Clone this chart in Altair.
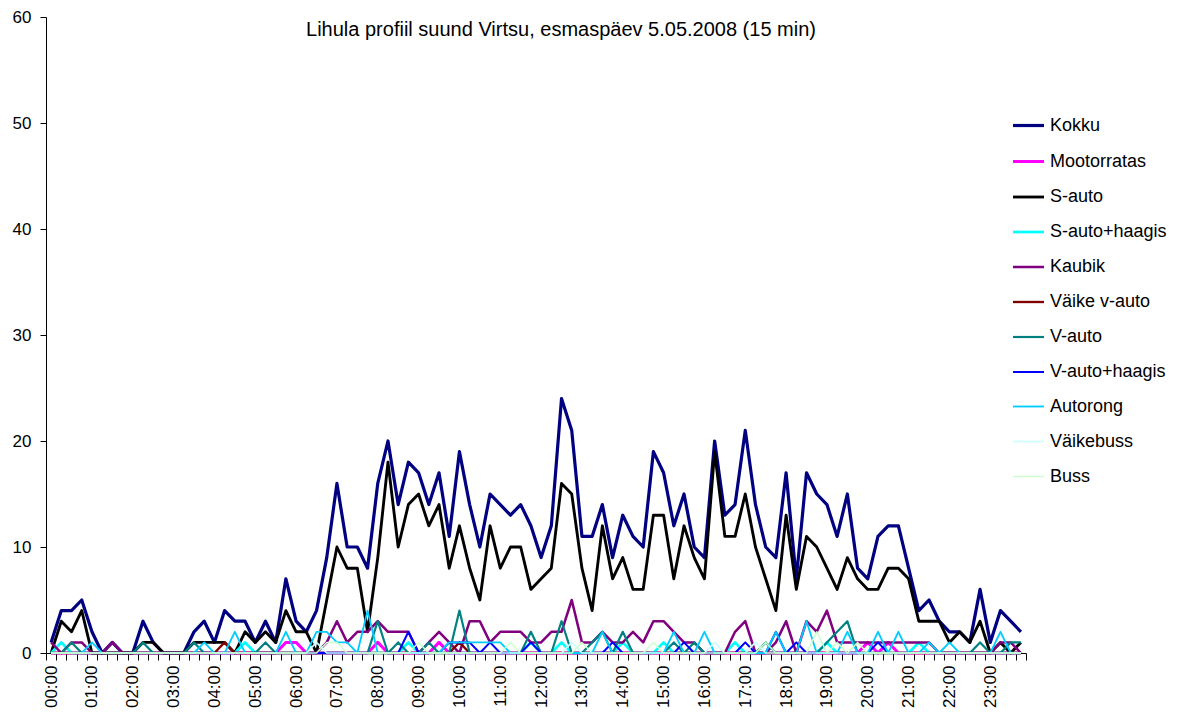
import altair as alt
import pandas as pd

title_text = "Lihula profiil suund Virtsu, esmaspäev 5.05.2008 (15 min)"

times = [f"{h:02d}:{m:02d}" for h in range(24) for m in (0, 15, 30, 45)]

series = ["Kokku", "Mootorratas", "S-auto", "S-auto+haagis", "Kaubik", "Väike v-auto",
          "V-auto", "V-auto+haagis", "Autorong", "Väikebuss", "Buss"]
colors = ["#000080", "#FF00FF", "#000000", "#00FFFF", "#800080", "#800000",
          "#008080", "#0000FF", "#00CCFF", "#CCFFFF", "#CCFFCC"]
widths = [3.2, 1.5, 1, 1.5, 1.5, 1.5, 1.5, 1.5, 1.5, 1.5, 1.5]

kokku = [1, 4, 4, 5, 2, 0, 1, 0, 0, 3, 1, 0, 0, 0, 2, 3,
         1, 4, 3, 3, 1, 3, 1, 7, 3, 2, 4, 9, 16, 10, 10, 8,
         16, 20, 14, 18, 17, 14, 17, 11, 19, 14, 10, 15, 14, 13, 14, 12,
         9, 12, 24, 21, 11, 11, 14, 9, 13, 11, 10, 19, 17, 12, 15, 10,
         9, 20, 13, 14, 21, 14, 10, 9, 17, 7, 17, 15, 14, 11, 15, 8,
         7, 11, 12, 12, 8, 4, 5, 3, 2, 2, 1, 6, 1, 4, 3, 2]
mootorratas = [0, 0, 0, 0, 0, 0, 0, 0, 0, 0, 0, 0, 0, 0, 0, 0,
               0, 0, 0, 0, 0, 0, 0, 1, 1, 0, 0, 0, 0, 0, 0, 0,
               1, 0, 0, 0, 0, 0, 1, 0, 0, 0, 0, 0, 0, 0, 0, 0,
               0, 0, 0, 0, 0, 0, 0, 0, 0, 0, 0, 0, 0, 0, 0, 0,
               0, 0, 0, 0, 0, 0, 0, 0, 0, 0, 0, 0, 0, 0, 0, 0,
               1, 0, 1, 0, 0, 0, 0, 0, 0, 0, 0, 0, 0, 0, 0, 0]
s_auto = [0, 3, 2, 4, 0, 0, 0, 0, 0, 1, 1, 0, 0, 0, 1, 1,
          1, 1, 0, 2, 1, 2, 1, 4, 2, 2, 0, 5, 10, 8, 8, 2,
          9, 18, 10, 14, 15, 12, 14, 8, 12, 8, 5, 12, 8, 10, 10, 6,
          7, 8, 16, 15, 8, 4, 12, 7, 9, 6, 6, 13, 13, 7, 12, 9,
          7, 19, 11, 11, 15, 10, 7, 4, 13, 6, 11, 10, 8, 6, 9, 7,
          6, 6, 8, 8, 7, 3, 3, 3, 1, 2, 1, 3, 0, 1, 0, 1]
s_auto_haagis = [0, 1, 0, 0, 0, 0, 0, 0, 0, 0, 0, 0, 0, 0, 0, 0,
                 0, 0, 0, 1, 0, 0, 0, 0, 0, 0, 0, 0, 0, 0, 0, 0,
                 0, 0, 0, 1, 0, 0, 0, 0, 0, 0, 0, 0, 0, 0, 0, 1,
                 0, 0, 1, 0, 0, 0, 0, 0, 1, 0, 0, 0, 1, 0, 0, 0,
                 0, 0, 0, 1, 0, 0, 0, 0, 0, 0, 0, 0, 1, 0, 0, 0,
                 0, 0, 0, 0, 0, 1, 0, 0, 0, 0, 0, 0, 0, 0, 0, 0]
kaubik = [1, 0, 1, 1, 0, 0, 1, 0, 0, 0, 0, 0, 0, 0, 0, 0,
          0, 0, 0, 0, 0, 0, 0, 0, 0, 0, 0, 1, 3, 1, 2, 2,
          3, 2, 2, 2, 0, 1, 2, 1, 0, 3, 3, 1, 2, 2, 2, 1,
          1, 2, 2, 5, 1, 1, 2, 1, 1, 2, 1, 3, 3, 2, 1, 1,
          0, 0, 0, 2, 3, 0, 0, 1, 3, 0, 3, 2, 4, 1, 1, 1,
          1, 1, 1, 1, 1, 1, 1, 0, 0, 0, 0, 0, 0, 1, 1, 0]
vaike_v_auto = [0, 0, 0, 0, 0, 0, 0, 0, 0, 0, 0, 0, 0, 0, 0, 0,
                0, 1, 0, 0, 0, 0, 0, 0, 0, 0, 0, 0, 0, 0, 0, 0,
                0, 0, 0, 0, 0, 0, 0, 0, 1, 0, 0, 0, 0, 0, 0, 0,
                0, 0, 0, 0, 0, 0, 0, 0, 0, 0, 0, 0, 0, 0, 0, 0,
                0, 0, 0, 0, 0, 0, 0, 0, 0, 0, 0, 0, 0, 0, 0, 0,
                0, 0, 0, 0, 0, 0, 0, 0, 0, 0, 0, 0, 0, 0, 0, 0]
v_auto = [0, 0, 1, 0, 0, 0, 0, 0, 0, 1, 0, 0, 0, 0, 1, 0,
          0, 0, 0, 0, 0, 1, 0, 0, 0, 0, 0, 0, 0, 0, 0, 0,
          3, 0, 1, 0, 0, 1, 0, 0, 4, 0, 0, 0, 0, 0, 0, 2,
          0, 0, 3, 0, 0, 1, 2, 0, 2, 0, 0, 0, 0, 1, 0, 1,
          0, 0, 0, 0, 0, 0, 1, 0, 0, 0, 0, 0, 1, 2, 3, 0,
          0, 0, 0, 0, 0, 0, 0, 0, 0, 0, 0, 1, 0, 0, 1, 1]
v_auto_haagis = [0, 0, 0, 0, 0, 0, 0, 0, 0, 0, 0, 0, 0, 0, 0, 0,
                 0, 0, 0, 0, 0, 0, 0, 0, 0, 0, 0, 0, 0, 0, 0, 0,
                 0, 0, 0, 2, 0, 0, 0, 1, 1, 1, 0, 1, 0, 0, 0, 1,
                 0, 0, 0, 0, 0, 0, 0, 1, 0, 0, 0, 0, 0, 0, 1, 0,
                 0, 0, 0, 0, 1, 0, 0, 2, 0, 1, 0, 0, 0, 0, 0, 0,
                 0, 1, 0, 0, 0, 0, 0, 0, 0, 0, 0, 0, 0, 0, 0, 0]
autorong = [0, 0, 0, 0, 1, 0, 0, 0, 0, 0, 0, 0, 0, 0, 0, 1,
            0, 0, 2, 0, 0, 0, 0, 2, 0, 0, 2, 2, 1, 1, 0, 4,
            0, 0, 0, 0, 0, 0, 0, 1, 1, 1, 1, 1, 1, 0, 0, 0,
            0, 0, 0, 0, 0, 0, 2, 0, 0, 0, 0, 0, 0, 2, 0, 0,
            2, 0, 0, 0, 0, 0, 0, 2, 0, 0, 3, 0, 0, 0, 2, 0,
            0, 2, 0, 2, 0, 0, 1, 0, 1, 0, 0, 0, 0, 2, 0, 0]
vaikebuss = [0, 0, 0, 0, 0, 0, 0, 0, 0, 0, 0, 0, 0, 0, 0, 0,
             0, 0, 0, 0, 0, 0, 0, 0, 0, 0, 1, 0, 0, 0, 0, 0,
             0, 0, 0, 0, 0, 0, 0, 0, 0, 0, 0, 0, 0, 0, 0, 0,
             0, 0, 0, 1, 0, 0, 0, 0, 0, 0, 0, 0, 0, 0, 0, 0,
             0, 1, 0, 0, 0, 1, 0, 0, 0, 0, 0, 0, 0, 0, 0, 0,
             0, 0, 0, 0, 0, 0, 0, 0, 0, 0, 0, 0, 0, 0, 0, 0]
buss = [0, 0, 0, 0, 0, 0, 0, 0, 0, 0, 0, 0, 0, 0, 0, 0,
        0, 0, 0, 0, 0, 0, 0, 0, 0, 0, 0, 1, 1, 0, 0, 0,
        0, 0, 0, 0, 1, 0, 0, 0, 0, 0, 0, 0, 0, 1, 0, 0,
        0, 0, 0, 0, 1, 0, 0, 0, 0, 0, 0, 1, 0, 0, 0, 0,
        0, 0, 0, 0, 0, 0, 1, 0, 0, 0, 0, 2, 0, 1, 0, 1,
        0, 0, 0, 0, 0, 0, 0, 0, 0, 0, 0, 0, 0, 0, 0, 0]

values = [kokku, mootorratas, s_auto, s_auto_haagis, kaubik, vaike_v_auto,
          v_auto, v_auto_haagis, autorong, vaikebuss, buss]

rows = []
for name, vals in zip(series, values):
    for t, v in zip(times, vals):
        rows.append({"aeg": t, "seeria": name, "arv": v})
df = pd.DataFrame(rows)

FONT = "Liberation Sans"

lines = alt.Chart(df).mark_line(strokeJoin="round").encode(
    x=alt.X("aeg:O", sort=times,
            scale=alt.Scale(type="band", paddingInner=0, paddingOuter=0),
            axis=alt.Axis(title=None, tickBand="extent", tickSize=7, tickColor="black",
                          domainColor="black", labelAngle=270, labelFontSize=17,
                          labelFont=FONT, labelColor="black", labelPadding=5,
                          labelOverlap=False,
                          labelExpr="slice(datum.label, 3) == '00' ? datum.label : ''")),
    y=alt.Y("arv:Q", scale=alt.Scale(domain=[0, 60], nice=False),
            axis=alt.Axis(title=None, values=[0, 10, 20, 30, 40, 50, 60], grid=False,
                          tickSize=6, tickColor="black", domainColor="black",
                          labelFontSize=17, labelFont=FONT, labelColor="black",
                          labelPadding=9)),
    color=alt.Color("seeria:N", sort=series,
                    scale=alt.Scale(domain=series, range=colors),
                    legend=alt.Legend(title=None)),
    strokeWidth=alt.StrokeWidth("seeria:N", sort=series,
                                scale=alt.Scale(domain=series, range=widths),
                                legend=alt.Legend(title=None)),
    order=alt.Order("aeg:O"),
)

title = alt.Chart(pd.DataFrame({"t": [title_text]})).mark_text(
    fontSize=20, font=FONT, color="black", align="center", baseline="middle"
).encode(text="t:N", x=alt.value(515), y=alt.value(13))

chart = alt.layer(lines, title).properties(
    width=980, height=636,
    padding={"left": 38, "top": 9, "right": 143, "bottom": 57},
    autosize=alt.AutoSizeParams(type="none"),
).configure_view(stroke=None).configure_legend(
    orient="none", legendX=965, legendY=91,
    symbolType="stroke", symbolSize=961, labelFontSize=18, labelFont=FONT,
    labelColor="black", labelOffset=4, rowPadding=9,
).configure_axis(domainWidth=1, tickWidth=1)

chart.save("out.html", embed_options={"renderer": "svg", "actions": False})
